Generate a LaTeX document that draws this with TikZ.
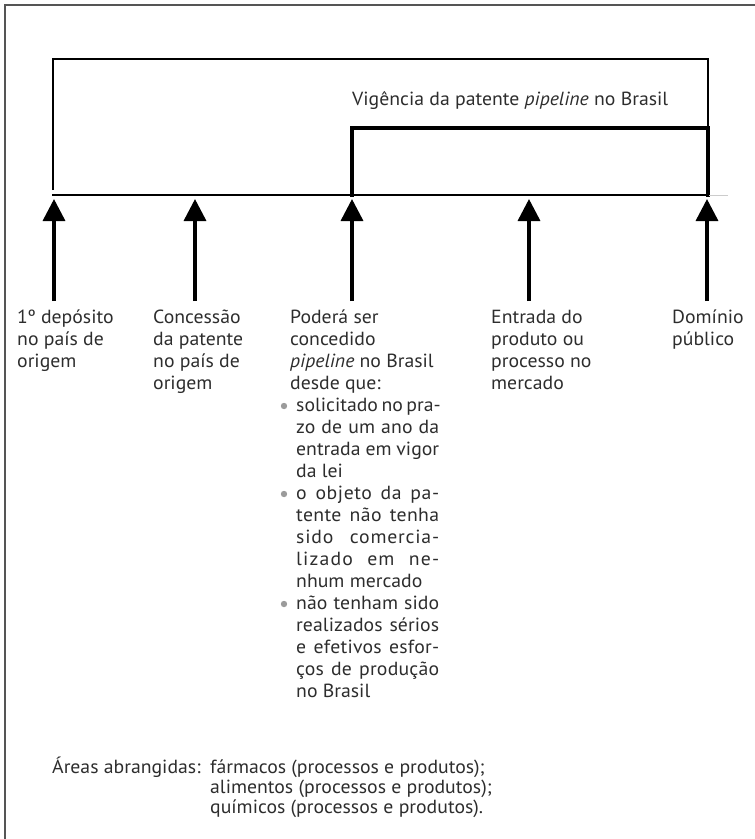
\documentclass[tikz,border=0pt]{standalone}
\usepackage{fontspec}
\usetikzlibrary{arrows.meta}
% calibrate the width of PT Sans to the widths measured on the reference
\newfontfamily\probefont{PT Sans}
\newlength\lena \newlength\lenb \newlength\lenc
\settowidth\lena{\probefont\fontsize{19}{22}\selectfont Vigência da patente \itshape pipeline\upshape\ no Brasil}
\settowidth\lenb{\probefont\fontsize{19}{22}\selectfont Áreas abrangidas:}
\settowidth\lenc{\probefont\fontsize{19}{22}\selectfont fármacos (processos e produtos);}
\pgfmathsetmacro\stretchf{739/(\lena+\lenb+\lenc)}
\edef\setmyfont{\noexpand\setmainfont{PT Sans}[FakeStretch=\stretchf]}
\setmyfont
\definecolor{txt}{RGB}{45,45,45}
\definecolor{framec}{RGB}{85,85,85}
\definecolor{bul}{RGB}{155,155,155}
\tikzset{
  lbl/.style={anchor=base west, inner sep=0pt, text=txt, font=\fontsize{19}{22}\selectfont},
  smalllbl/.style={anchor=base west, inner sep=0pt, text=txt, font=\fontsize{19}{20}\selectfont},
  uparrow/.style={line width=3.5pt, -{Triangle[width=22pt,length=22pt]}},
  thinbracket/.style={line width=2.5pt},
  thickbracket/.style={line width=3.6pt},
  bulletdot/.style={fill=bul},
}
\newlength\jlnat
\newcommand{\jl}[2]{%
  \settowidth\jlnat{#2}%
  \pgfmathsetmacro\jlls{max(0,0.55*(143-\jlnat)/#1/0.19)}%
  \makebox[143pt][s]{\addfontfeature{LetterSpace=\jlls}#2}}
\newcommand{\ind}{\hspace*{6pt}}
\begin{document}
\begin{tikzpicture}[x=1pt,y=-1pt]
\useasboundingbox (0,0) rectangle (755,839);
% frame
\draw[framec, line width=2pt] (5,845) -- (5,5) -- (760,5);
% brackets and time line
\draw[thinbracket] (53,190) -- (53,59) -- (708,59) -- (708,195);
\draw[thickbracket] (352,196.5) -- (352,128) -- (708,128) -- (708,196.5);
\draw[line width=2.5pt] (52,195) -- (709,195);
\draw[black!20, line width=1pt] (709,195) -- (728,195);
\node[lbl] (vig) at (352,105) {Vigência da patente \emph{pipeline} no Brasil};
% arrows
\foreach \i/\x in {1/54,2/195,3/352,4/529,5/707}{
  \coordinate (tip\i) at (\x,199);
  \coordinate (foot\i) at (\x,301);
  \draw[uparrow] (foot\i) -- (tip\i);
}
% labels
\node[lbl] (c1) at (17,323) {\parbox[t]{130pt}{\raggedright 1º depósito\\no país de\\origem}};
\node[lbl] (c2) at (153,323) {\parbox[t]{130pt}{\raggedright Concessão\\da patente\\no país de\\origem}};
\node[lbl] (c3) at (290,323) {\parbox[t]{170pt}{\raggedright Poderá ser\\concedido\\\emph{pipeline} no Brasil\\desde que:\\
\ind\jl{18}{solicitado no pra-}\\
\ind\jl{15}{zo de um ano da}\\
\ind\jl{16}{entrada em vigor}\\
\ind da lei\\
\ind\jl{15}{o objeto da pa-}\\
\ind\jl{15}{tente não tenha}\\
\ind\jl{14}{sido comercia-}\\
\ind\jl{13}{lizado em ne-}\\
\ind nhum mercado\\
\ind\jl{15}{não tenham sido}\\
\ind\jl{17}{realizados sérios}\\
\ind\jl{17}{e efetivos esfor-}\\
\ind\jl{15}{ços de produção}\\
\ind no Brasil}};
\node[lbl] (c4) at (491,323) {\parbox[t]{150pt}{\raggedright Entrada do\\produto ou\\processo no\\mercado}};
\node[lbl] (c5) at (672,323) {\parbox[t]{80pt}{\raggedright Domínio\\público}};
% bullets
\foreach \k in {4,8,13}{
  \fill[bulletdot] (284,{323+22*\k-5}) circle (3.2pt);
}
% bottom
\node[smalllbl] (areas) at (52,773) {Áreas abrangidas:};
\node[smalllbl] (alist) at (210,773) {\parbox[t]{300pt}{\raggedright fármacos (processos e produtos);\\alimentos (processos e produtos);\\químicos (processos e produtos).}};
\end{tikzpicture}
\end{document}
